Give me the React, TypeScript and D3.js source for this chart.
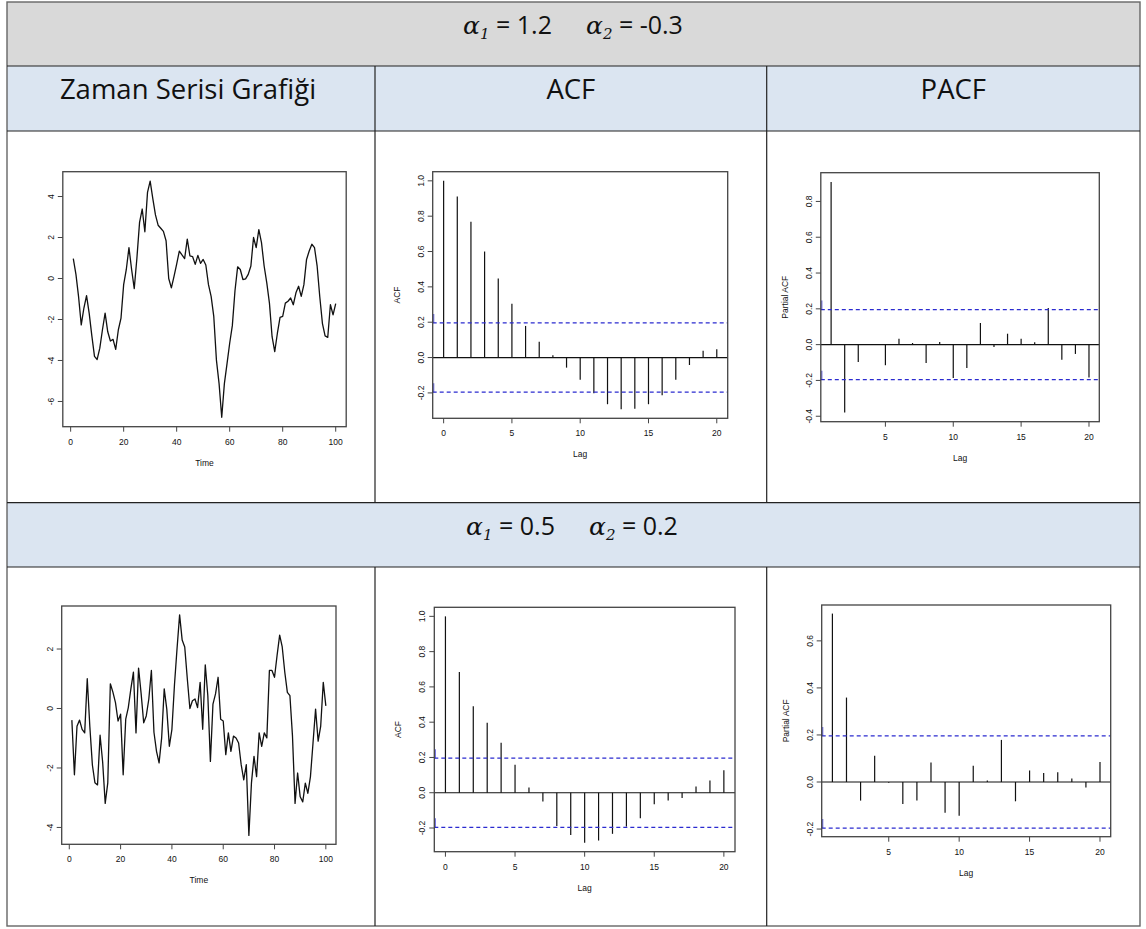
import React from 'react';
import * as d3 from 'd3';

// ---------- data ----------
const series1 = [
  0.97, 0.2, -0.9, -2.26, -1.44, -0.84, -1.7, -2.8, -3.8, -3.95,
  -3.4, -2.5, -1.69, -2.6, -3.05, -2.97, -3.46, -2.5, -1.93, -0.3,
  0.44, 1.51, 0.44, -0.49, 1.0, 2.74, 3.39, 2.28, 4.2, 4.75,
  3.9, 3.1, 2.6, 2.45, 2.3, 1.84, 0.0, -0.46, 0.1, 0.7,
  1.34, 1.15, 0.97, 1.92, 1.1, 1.07, 0.69, 1.13, 0.74, 0.93,
  0.66, -0.3, -0.87, -1.85, -3.98, -5.13, -6.77, -5.13, -4.15, -3.16,
  -2.3, -0.6, 0.57, 0.44, -0.05, -0.02, 0.2, 0.61, 2.0, 1.51,
  2.38, 1.75, 0.61, -0.21, -1.2, -2.84, -3.57, -2.67, -1.9, -1.85,
  -1.2, -1.11, -0.95, -1.28, -0.7, -0.38, -0.87, -0.3, 0.93, 1.34,
  1.67, 1.51, 0.6, -0.9, -2.2, -2.8, -2.87, -1.28, -1.77, -1.23,
];

const series2 = [
  -0.39, -2.23, -0.6, -0.39, -0.7, -0.82, 1.0, -0.6, -1.9, -2.5,
  -2.57, -0.9, -1.8, -3.19, -2.5, 0.83, 0.55, 0.2, -0.42, -0.19,
  -2.23, -0.36, 0.03, 0.66, 1.22, -0.82, 1.36, 0.5, -0.48, -0.25,
  0.32, 1.28, -0.8, -1.44, -1.83, -0.99, 0.66, -0.02, -1.27, -0.7,
  0.8, 2.02, 3.15, 2.3, 2.07, 1.0, 0.0, 0.26, 0.32, 0.03,
  0.88, -0.7, 1.47, 0.43, -1.78, 0.15, 0.49, 1.05, -0.36, -0.42,
  -1.55, -0.82, -1.44, -0.93, -0.99, -1.16, -1.89, -2.4, -1.89, -4.27,
  -2.51, -1.61, -2.29, -0.82, -1.27, -0.82, -0.99, 1.28, 1.28, 1.05,
  1.79, 2.47, 2.07, 1.22, 0.54, 0.43, -0.93, -3.19, -2.17, -2.97,
  -3.14, -2.51, -2.85, -2.29, -1.16, -0.02, -1.1, -0.59, 0.88, 0.09,
];

// ACF lags 0..20
const acf1 = [
  1.0, 0.911, 0.768, 0.6, 0.447, 0.304, 0.179, 0.089, 0.013, -0.057,
  -0.126, -0.202, -0.264, -0.292, -0.289, -0.264, -0.213, -0.126, -0.042, 0.038, 0.047,
];
// PACF lags 1..20
const pacf1 = [
  0.909, -0.379, -0.097, 0.002, -0.115, 0.033, 0.009, -0.102, 0.015, -0.186,
  -0.13, 0.121, -0.013, 0.061, 0.033, 0.013, 0.204, -0.084, -0.052, -0.184,
];
const acf2 = [
  1.0, 0.685, 0.491, 0.397, 0.283, 0.159, 0.03, -0.05, -0.188, -0.239,
  -0.283, -0.271, -0.233, -0.192, -0.144, -0.065, -0.044, -0.03, 0.036, 0.07, 0.127,
];
const pacf2 = [
  0.716, 0.359, -0.079, 0.112, -0.003, -0.093, -0.079, 0.083, -0.131, -0.143,
  0.069, 0.006, 0.179, -0.082, 0.049, 0.038, 0.042, 0.015, -0.023, 0.085,
];
const ciLimit = 0.196;

const tsXTicks = [0, 20, 40, 60, 80, 100];
const ts1YTicks = [-6, -4, -2, 0, 2, 4];
const ts2YTicks = [-4, -2, 0, 2];
const acfXTicks = [0, 5, 10, 15, 20];
const pacfXTicks = [5, 10, 15, 20];
const acfYTicks = [-0.2, 0, 0.2, 0.4, 0.6, 0.8, 1.0];
const pacf1YTicks = [-0.4, -0.2, 0, 0.2, 0.4, 0.6, 0.8];
const pacf2YTicks = [-0.2, 0, 0.2, 0.4, 0.6];

const columnHeaders = ['Zaman Serisi Grafiği', 'ACF', 'PACF'];
const params1 = ['1.2', '-0.3'];
const params2 = ['0.5', '0.2'];

// ---------- helpers ----------
const expand = (lo: number, hi: number): [number, number] => {
  const d = (hi - lo) * 0.04;
  return [lo - d, hi + d];
};

type Box = { x0: number; x1: number; y0: number; y1: number };

const AX_FONT = "'Liberation Sans', Arial, sans-serif";
const BLUE = '#2b2bd0';

function Panel(props: {
  box: Box;
  kind: 'ts' | 'acf' | 'pacf';
  values: number[];
  xTicks: number[];
  yTicks: number[];
  xTitle: string;
  yTitle?: string;
  fmt: (v: number) => string;
}) {
  const { box, kind, values, xTicks, yTicks, xTitle, yTitle, fmt } = props;
  const lagStart = kind === 'acf' ? 0 : 1;
  const xs = values.map((_, i) => i + lagStart);
  const xDom = expand(d3.min(xs)!, d3.max(xs)!);
  let lo = d3.min(values)!;
  let hi = d3.max(values)!;
  if (kind !== 'ts') {
    lo = Math.min(lo, -ciLimit);
    hi = Math.max(hi, ciLimit);
  }
  const yDom = expand(lo, hi);
  const x = d3.scaleLinear().domain(xDom).range([box.x0, box.x1]);
  const y = d3.scaleLinear().domain(yDom).range([box.y1, box.y0]);
  const line = d3
    .line<number>()
    .x((_, i) => x(i + 1))
    .y((d) => y(d));

  const cx = (box.x0 + box.x1) / 2;
  const cy = (box.y0 + box.y1) / 2;

  return (
    <g>
      {kind === 'ts' && (
        <path d={line(values) || ''} fill="none" stroke="#111" strokeWidth={1.3} strokeLinejoin="round" />
      )}
      {kind !== 'ts' && (
        <g>
          <line x1={box.x0} x2={box.x1} y1={y(0)} y2={y(0)} stroke="#111" strokeWidth={1.2} />
          {values.map((v, i) => (
            <line key={i} x1={x(i + lagStart)} x2={x(i + lagStart)} y1={y(0)} y2={y(v)} stroke="#111" strokeWidth={1.2} />
          ))}
          {[ciLimit, -ciLimit].map((c) => (
            <g key={c}>
              <line x1={box.x0} x2={box.x1} y1={y(c)} y2={y(c)} stroke={BLUE} strokeWidth={1.2} strokeDasharray="4,3" />
              <line x1={box.x0 + 1} x2={box.x0 + 1} y1={y(c)} y2={y(c) - 9} stroke={BLUE} strokeWidth={1.2} opacity={0.7} />
            </g>
          ))}
        </g>
      )}
      <rect x={box.x0} y={box.y0} width={box.x1 - box.x0} height={box.y1 - box.y0} fill="none" stroke="#444" strokeWidth={1.3} />
      {/* x axis */}
      {xTicks.map((t) => (
        <g key={'xt' + t}>
          <line x1={x(t)} x2={x(t)} y1={box.y1} y2={box.y1 + 5} stroke="#444" strokeWidth={1} />
          <text x={x(t)} y={box.y1 + 18} textAnchor="middle" fontSize={8.5} fontFamily={AX_FONT} fill="#111">
            {t}
          </text>
        </g>
      ))}
      <text x={cx} y={box.y1 + 39} textAnchor="middle" fontSize={8.5} fontFamily={AX_FONT} fill="#111">
        {xTitle}
      </text>
      {/* y axis */}
      {yTicks.map((t) => (
        <g key={'yt' + t}>
          <line x1={box.x0 - 5} x2={box.x0} y1={y(t)} y2={y(t)} stroke="#444" strokeWidth={1} />
          <text
            transform={`translate(${box.x0 - 9},${y(t)}) rotate(-90)`}
            textAnchor="middle"
            fontSize={8.5}
            fontFamily={AX_FONT}
            fill="#111"
          >
            {fmt(t)}
          </text>
        </g>
      ))}
      {yTitle && (
        <text
          transform={`translate(${box.x0 - 33},${cy}) rotate(-90)`}
          textAnchor="middle"
          fontSize={8.5}
          fontFamily={AX_FONT}
          fill="#111"
        >
          {yTitle}
        </text>
      )}
    </g>
  );
}

const intFmt = (v: number) => String(v);
const decFmt = (v: number) => v.toFixed(1);

function ParamHeader(props: { cx: number; y: number; vals: string[] }) {
  const { cx, y, vals } = props;
  const alpha = { fontFamily: "'DejaVu Serif', serif", fontStyle: 'italic' as const, fontSize: 25 };
  const sub = { fontFamily: "'DejaVu Serif', serif", fontStyle: 'italic' as const, fontSize: 15 };
  const reg = { fontFamily: "'Open Sans', 'Noto Sans', sans-serif", fontSize: 25 };
  return (
    <text x={cx} y={y} textAnchor="middle" fill="#111">
      <tspan {...alpha}>α</tspan>
      <tspan {...sub} dy={5}>1</tspan>
      <tspan {...reg} dy={-5}>{' = ' + vals[0]}</tspan>
      <tspan {...alpha} dx={34}>α</tspan>
      <tspan {...sub} dy={5}>2</tspan>
      <tspan {...reg} dy={-5}>{' = ' + vals[1]}</tspan>
    </text>
  );
}

export default function App() {
  const L = 7, R = 1140, T = 2, B = 926;
  const c1 = 375, c2 = 766.7;
  const h1 = 66, h2 = 131, h3 = 502.7, h4 = 567;
  const colCenters = [(L + c1) / 2 - 3, (c1 + c2) / 2, (c2 + R) / 2];
  const headFont = "'Open Sans', 'Noto Sans', sans-serif";

  return (
    <svg
      width={1146}
      height={929}
      style={{ position: 'fixed', left: 0, top: 0, background: '#fff' }}
    >
      <rect x={0} y={0} width={1146} height={929} fill="#fff" />
      {/* table backgrounds */}
      <rect x={L} y={T} width={R - L} height={h1 - T} fill="#d9d9d9" />
      <rect x={L} y={h1} width={R - L} height={h2 - h1} fill="#dbe5f1" />
      <rect x={L} y={h3} width={R - L} height={h4 - h3} fill="#dbe5f1" />
      {/* table lines */}
      <rect x={L} y={T} width={R - L} height={B - T} fill="none" stroke="#666" strokeWidth={1.4} />
      {[h1, h2, h3, h4].map((h) => (
        <line key={h} x1={L} x2={R} y1={h} y2={h} stroke="#222" strokeWidth={1.2} />
      ))}
      {[c1, c2].map((c) => (
        <g key={c}>
          <line x1={c} x2={c} y1={h1} y2={h3} stroke="#222" strokeWidth={1.2} />
          <line x1={c} x2={c} y1={h4} y2={B} stroke="#222" strokeWidth={1.2} />
        </g>
      ))}

      {/* headers */}
      <ParamHeader cx={573} y={34} vals={params1} />
      {columnHeaders.map((h, i) => (
        <text key={h} x={colCenters[i]} y={99} textAnchor="middle" fontFamily={headFont} fontSize={27.5} fill="#111">
          {h}
        </text>
      ))}
      <ParamHeader cx={572} y={535} vals={params2} />

      {/* top row */}
      <Panel box={{ x0: 62.8, x1: 346.2, y0: 171.7, y1: 426.7 }} kind="ts" values={series1}
        xTicks={tsXTicks} yTicks={ts1YTicks} xTitle="Time" fmt={intFmt} />
      <Panel box={{ x0: 432.7, x1: 727.7, y0: 171.7, y1: 418.3 }} kind="acf" values={acf1}
        xTicks={acfXTicks} yTicks={acfYTicks} xTitle="Lag" yTitle="ACF" fmt={decFmt} />
      <Panel box={{ x0: 820.8, x1: 1099.3, y0: 172.7, y1: 421.7 }} kind="pacf" values={pacf1}
        xTicks={pacfXTicks} yTicks={pacf1YTicks} xTitle="Lag" yTitle="Partial ACF" fmt={decFmt} />

      {/* bottom row */}
      <Panel box={{ x0: 61.7, x1: 336, y0: 606, y1: 844.3 }} kind="ts" values={series2}
        xTicks={tsXTicks} yTicks={ts2YTicks} xTitle="Time" fmt={intFmt} />
      <Panel box={{ x0: 434.3, x1: 735, y0: 607.3, y1: 851.7 }} kind="acf" values={acf2}
        xTicks={acfXTicks} yTicks={acfYTicks} xTitle="Lag" yTitle="ACF" fmt={decFmt} />
      <Panel box={{ x0: 821.7, x1: 1110.7, y0: 605, y1: 836.7 }} kind="pacf" values={pacf2}
        xTicks={pacfXTicks} yTicks={pacf2YTicks} xTitle="Lag" yTitle="Partial ACF" fmt={decFmt} />
    </svg>
  );
}
